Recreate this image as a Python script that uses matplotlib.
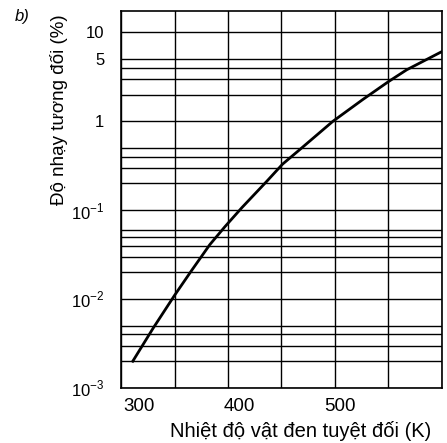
import matplotlib
matplotlib.use("Agg")
import matplotlib.pyplot as plt
import matplotlib.transforms as mtransforms
from matplotlib.ticker import FixedLocator, NullFormatter

# ---- data ----
temperature_K = [311, 330, 350, 366, 383, 397, 413, 436, 451, 467, 498, 526, 550, 567, 600]
sensitivity_pct = [0.002, 0.0047, 0.011, 0.021, 0.041, 0.065, 0.107, 0.21, 0.33, 0.48,
                   1.0, 1.76, 2.8, 3.8, 6.1]

x_ticks = [300, 400, 500]
x_tick_labels = ["300", "400", "500"]
x_grid = [300, 350, 400, 450, 500, 550, 600]
y_ticks = [1e-3, 1e-2, 1e-1, 1, 5, 10]
y_tick_labels = [r"$\mathrm{10}^{\mathrm{-3}}$", r"$\mathrm{10}^{\mathrm{-2}}$",
                 r"$\mathrm{10}^{\mathrm{-1}}$", "1", "5", "10"]
x_label = "Nhiệt độ vật đen tuyệt đối (K)"
y_label = "Độ nhạy tương đối (%)"
panel_label = "b)"

plt.rcParams['mathtext.fontset'] = 'custom'
plt.rcParams['mathtext.rm'] = 'Liberation Sans'
plt.rcParams['font.family'] = ['Liberation Sans', 'DejaVu Sans']

fig = plt.figure(figsize=(4.47, 4.43), dpi=100)
ax = fig.add_axes([0.2707, 0.1242, 0.9888 - 0.2707, 0.975 - 0.1242])

ax.set_yscale('log')
ax.set_xlim(300, 600)
ax.set_ylim(1e-3, 17.4)

# grid lines
minor_y = []
for d in [1e-3, 1e-2, 1e-1, 1]:
    for m in [2, 3, 4, 5]:
        minor_y.append(d * m)
minor_y.append(0.06)
for yv in minor_y + [1e-3, 1e-2, 1e-1, 1, 10]:
    ax.axhline(yv, color='black', lw=1.0, zorder=1)
for xv in x_grid:
    ax.axvline(xv, color='black', lw=1.0, zorder=1)

ax.plot(temperature_K, sensitivity_pct, color='black', lw=2.0, zorder=3)

ax.yaxis.set_major_locator(FixedLocator(y_ticks))
ax.set_yticklabels(y_tick_labels, fontsize=12)
ax.yaxis.set_minor_locator(FixedLocator([]))
ax.yaxis.set_minor_formatter(NullFormatter())
ax.set_xticks(x_ticks)
ax.set_xticklabels(x_tick_labels, fontsize=13.5)
ax.tick_params(axis='both', length=0)
ax.tick_params(axis='y', pad=12)
ax.tick_params(axis='x', pad=7)

for lbl, dx in zip(ax.get_xticklabels(), [18, 11, 5]):
    off = mtransforms.ScaledTranslation(dx / 100, 0, fig.dpi_scale_trans)
    lbl.set_transform(lbl.get_transform() + off)

for s in ax.spines.values():
    s.set_color('black')
    s.set_linewidth(1.2)

fig.text(0.673, 0.028, x_label, ha='center', va='center', fontsize=14.5)
fig.text(0.132, 0.752, y_label, ha='center', va='center', rotation=90, fontsize=13.5)
fig.text(0.05, 0.962, panel_label, ha='center', va='center', fontsize=12, style='italic')

fig.savefig("out.png", dpi=100)
